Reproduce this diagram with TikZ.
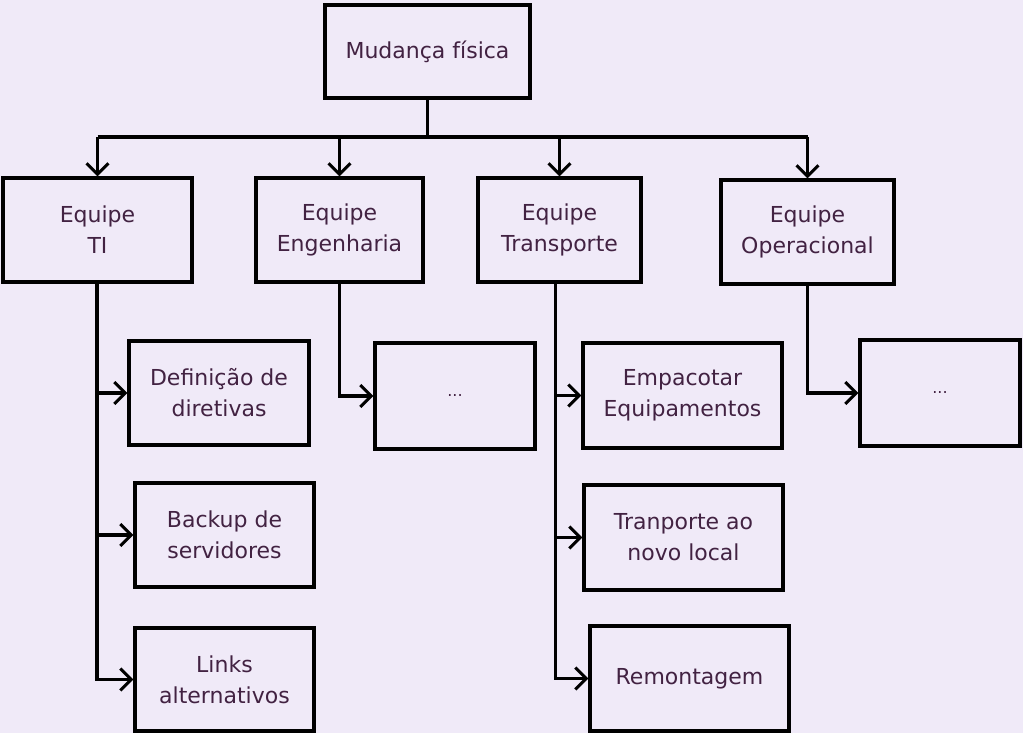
\documentclass[tikz,border=0pt]{standalone}
\usepackage{fontspec}
\setmainfont{DejaVu Sans}
\usetikzlibrary{arrows.meta}
\definecolor{fundo}{RGB}{240,234,248}
\definecolor{texto}{RGB}{66,34,66}
\begin{document}
\begin{tikzpicture}[x=1pt,y=-1pt,
  caixa/.style={draw=black,line width=3.2pt,fill=fundo,inner sep=0pt,
    text=texto,align=center,font=\fontsize{22}{31}\selectfont},
  seta/.style={line width=3.2pt,-{Straight Barb[length=11pt,width=22pt,line width=3pt]}},
  linha/.style={line width=3.2pt}]
  \fill[fundo] (0,0) rectangle (1023,733);
  \useasboundingbox (0,0) rectangle (1023,733);

  % topo
  \node[caixa,minimum width=205,minimum height=93] (mud) at (427.5,51.5) {Mudança física};

  % equipes
  \node[caixa,minimum width=189,minimum height=104] (ti) at (97.5,230) {Equipe\\TI};
  \node[caixa,minimum width=167,minimum height=104] (eng) at (339.5,230) {Equipe\\Engenharia};
  \node[caixa,minimum width=163,minimum height=104] (tra) at (559.5,230) {Equipe\\Transporte};
  \node[caixa,minimum width=173,minimum height=104] (ope) at (807.5,232) {Equipe\\Operacional};

  % tarefas
  \node[caixa,minimum width=180,minimum height=104] (def) at (219,393) {Definição de\\diretivas};
  \node[caixa,minimum width=179,minimum height=104] (bkp) at (224.5,535) {Backup de\\servidores};
  \node[caixa,minimum width=179,minimum height=103] (lnk) at (224.5,679.5) {Links\\alternativos};
  \node[caixa,minimum width=160,minimum height=106,font=\fontsize{16}{20}\selectfont] (eng1) at (455,396) {...};
  \node[caixa,minimum width=199,minimum height=105] (emp) at (682.5,395.5) {Empacotar\\Equipamentos};
  \node[caixa,minimum width=199,minimum height=105] (tnl) at (683.5,537.5) {Tranporte ao\\novo local};
  \node[caixa,minimum width=199,minimum height=105] (rem) at (689.5,678.5) {Remontagem};
  \node[caixa,minimum width=160,minimum height=106,font=\fontsize{16}{20}\selectfont] (ope1) at (940,393) {...};

  \coordinate (bus) at (mud.south |- 0,137);
  \draw[linha] (mud.south) -- (bus);
  \draw[linha] (bus -| ti.north) -- (bus -| ope.north);
  \foreach \e in {ti,eng,tra,ope}
    \draw[seta] (bus -| \e.north) -- (\e.north);

  \draw[seta] ([xshift=-0.5]ti.south) |- (def.west);
  \draw[seta] ([xshift=-0.5]ti.south) |- (bkp.west);
  \draw[seta] ([xshift=-0.5]ti.south) |- (lnk.west);
  \draw[seta] (eng.south) |- (eng1.west);
  \draw[seta] ([xshift=-4]tra.south) |- (emp.west);
  \draw[seta] ([xshift=-4]tra.south) |- (tnl.west);
  \draw[seta] ([xshift=-4]tra.south) |- (rem.west);
  \draw[seta] (ope.south) |- (ope1.west);
\end{tikzpicture}
\end{document}
